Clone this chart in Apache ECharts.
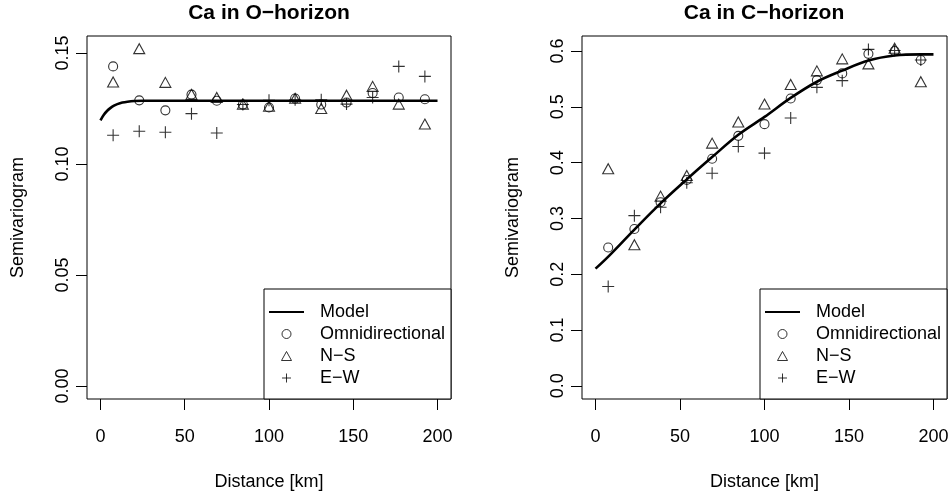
<!DOCTYPE html>
<html>
<head>
<meta charset="utf-8">
<script src="https://cdn.jsdelivr.net/npm/echarts@6/dist/echarts.min.js"></script>
<style>html,body{margin:0;padding:0;background:#fff}#c{width:952px;height:492px}</style>
</head>
<body>
<div id="c"></div>
<script>
// ---- data ----
const lags = [7.5, 23, 38.5, 54, 69, 84.5, 100, 115.5, 131, 146, 161.5, 177, 192.5];

// O-horizon
const oOmni = [0.144, 0.1287, 0.1242, 0.1313, 0.1285, 0.1268, 0.1255, 0.1295, 0.1268, 0.1277, 0.132, 0.130, 0.1292];
const oNS   = [0.137, 0.152, 0.1368, 0.1314, 0.130, 0.127, 0.126, 0.1296, 0.125, 0.131, 0.135, 0.127, 0.118];
const oEW   = [0.113, 0.1148, 0.1143, 0.1227, 0.114, 0.1268, 0.1287, 0.129, 0.129, 0.127, 0.130, 0.144, 0.1395];
const oModelX = [0, 2, 4, 6, 8, 10, 13, 16, 20, 25, 40, 200];
const oModelY = [0.1197, 0.1222, 0.1240, 0.1253, 0.1263, 0.1270, 0.1277, 0.1281, 0.1284, 0.1285, 0.1285, 0.1285];

// C-horizon
const cOmni = [0.248, 0.281, 0.329, 0.369, 0.407, 0.448, 0.469, 0.515, 0.548, 0.560, 0.595, 0.600, 0.584];
const cNS   = [0.389, 0.253, 0.340, 0.377, 0.435, 0.473, 0.505, 0.540, 0.5645, 0.586, 0.577, 0.605, 0.545];
const cEW   = [0.178, 0.305, 0.320, 0.364, 0.381, 0.429, 0.417, 0.480, 0.535, 0.547, 0.603, 0.601, 0.584];
const cModelX = [0, 8, 23, 38.5, 54, 69, 84.5, 100, 115.5, 131, 146, 161.5, 177, 192.5, 200];
const cModelY = [0.210, 0.233, 0.280, 0.327, 0.370, 0.410, 0.450, 0.482, 0.516, 0.545, 0.565, 0.583, 0.592, 0.594, 0.594];

const xTicks = [0, 50, 100, 150, 200];
const oYTicks = [0, 0.05, 0.10, 0.15];
const oYLabels = ['0.00', '0.05', '0.10', '0.15'];
const cYTicks = [0, 0.1, 0.2, 0.3, 0.4, 0.5, 0.6];
const cYLabels = ['0.0', '0.1', '0.2', '0.3', '0.4', '0.5', '0.6'];

const titles = ['Ca in O\u2212horizon', 'Ca in C\u2212horizon'];
const seriesNames = ['Model', 'Omnidirectional', 'N\u2212S', 'E\u2212W'];
const xName = 'Distance [km]';
const yName = 'Semivariogram';

// ---- chart ----
const FONT = '"Liberation Sans", Arial, Helvetica, sans-serif';
const zip = (xs, ys) => xs.map((x, i) => [x, ys[i]]);
const PLUS = 'path://M0,50L100,50M50,0L50,100';
const TRI = 'path://M50,0L100,90L0,90Z';

function xAxis(gi) {
  return {
    type: 'value', gridIndex: gi, min: -8, max: 208,
    name: xName, nameLocation: 'middle', nameGap: 74,
    nameTextStyle: { fontFamily: FONT, fontSize: 18, color: '#000' },
    axisLine: { show: false, onZero: false },
    axisTick: { show: true, inside: false, customValues: xTicks, length: 11, lineStyle: { color: '#000', width: 1 } },
    axisLabel: { customValues: xTicks, margin: 29, fontFamily: FONT, fontSize: 18, color: '#000' },
    splitLine: { show: false }
  };
}
function yAxis(gi, min, max, ticks, labels) {
  return {
    type: 'value', gridIndex: gi, min: min, max: max,
    name: yName, nameLocation: 'middle', nameGap: 60, nameRotate: 90,
    nameTextStyle: { fontFamily: FONT, fontSize: 18, color: '#000' },
    axisLine: { show: false, onZero: false },
    axisTick: { show: true, inside: false, customValues: ticks, length: 11, lineStyle: { color: '#000', width: 1 } },
    axisLabel: {
      customValues: ticks, rotate: 90, margin: 15, fontFamily: FONT, fontSize: 18, color: '#000',
      formatter: v => { const i = ticks.findIndex(t => Math.abs(t - v) < 1e-9); return i >= 0 ? labels[i] : ''; }
    },
    splitLine: { show: false }
  };
}
function panelSeries(gi, modelX, modelY, omni, ns, ew) {
  const sym = { color: 'rgba(0,0,0,0)', borderColor: '#000', borderWidth: 1.1 };
  return [
    { name: seriesNames[0], type: 'line', xAxisIndex: gi, yAxisIndex: gi, data: zip(modelX, modelY),
      symbol: 'none', smooth: 0.35, lineStyle: { color: '#000', width: 2.6 }, itemStyle: { color: '#000' }, z: 3, silent: true },
    { name: seriesNames[1], type: 'scatter', xAxisIndex: gi, yAxisIndex: gi, data: zip(lags, omni),
      symbol: 'circle', symbolSize: 9, itemStyle: sym, z: 4 },
    { name: seriesNames[2], type: 'scatter', xAxisIndex: gi, yAxisIndex: gi, data: zip(lags, ns),
      symbol: TRI, symbolSize: [11, 10], itemStyle: sym, z: 4 },
    { name: seriesNames[3], type: 'scatter', xAxisIndex: gi, yAxisIndex: gi, data: zip(lags, ew),
      symbol: PLUS, symbolSize: 12, itemStyle: sym, z: 4 }
  ];
}
function legend(left) {
  const st = { color: 'rgba(0,0,0,0)', borderColor: '#000', borderWidth: 1 };
  return {
    orient: 'vertical', left: left, top: 303, padding: 0, itemGap: 4,
    itemWidth: 35, itemHeight: 9, selectedMode: false, symbolKeepAspect: true,
    data: [
      { name: seriesNames[0], itemStyle: { color: 'rgba(0,0,0,0)', borderWidth: 0, borderColor: 'rgba(0,0,0,0)' } },
      { name: seriesNames[1], icon: 'circle', itemStyle: st },
      { name: seriesNames[2], icon: TRI, itemStyle: st },
      { name: seriesNames[3], icon: PLUS, itemStyle: st }
    ],
    textStyle: { fontFamily: FONT, fontSize: 18, color: '#000', lineHeight: 18, padding: [0, 0, 0, 11] }
  };
}

const chart = echarts.init(document.getElementById('c'), null, { renderer: 'canvas' });
chart.setOption({
  animation: false,
  backgroundColor: '#fff',
  title: [
    { text: titles[0], left: 269, top: 3, padding: 0, textAlign: 'center',
      textStyle: { fontFamily: FONT, fontSize: 21, fontWeight: 'bold', color: '#000' } },
    { text: titles[1], left: 764, top: 3, padding: 0, textAlign: 'center',
      textStyle: { fontFamily: FONT, fontSize: 21, fontWeight: 'bold', color: '#000' } }
  ],
  grid: [
    { left: 87, top: 36, width: 364, height: 363, show: true, borderColor: '#000', borderWidth: 1,
      backgroundColor: 'transparent', containLabel: false, outerBoundsMode: 'none' },
    { left: 582, top: 36, width: 365, height: 363, show: true, borderColor: '#000', borderWidth: 1,
      backgroundColor: 'transparent', containLabel: false, outerBoundsMode: 'none' }
  ],
  xAxis: [xAxis(0), xAxis(1)],
  yAxis: [yAxis(0, -0.0059, 0.1577, oYTicks, oYLabels), yAxis(1, -0.0236, 0.627, cYTicks, cYLabels)],
  legend: [legend(268), legend(764)],
  graphic: [
    { type: 'rect', shape: { x: 264, y: 289, width: 187, height: 110 }, style: { fill: '#fff', stroke: '#000', lineWidth: 1 }, z: 0 },
    { type: 'rect', shape: { x: 760, y: 289, width: 187, height: 110 }, style: { fill: '#fff', stroke: '#000', lineWidth: 1 }, z: 0 }
  ],
  series: [].concat(
    panelSeries(0, oModelX, oModelY, oOmni, oNS, oEW),
    panelSeries(1, cModelX, cModelY, cOmni, cNS, cEW)
  )
});
</script>
</body>
</html>
